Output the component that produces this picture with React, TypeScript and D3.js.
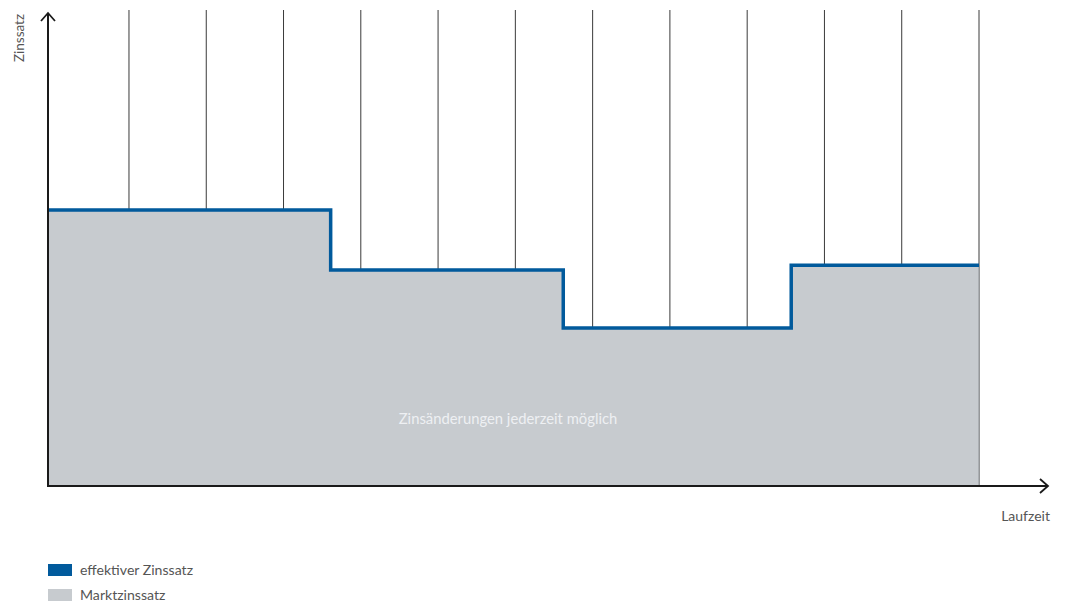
import React from "react";
import * as d3 from "d3";

const gridTicks = [1, 2, 3, 4, 5, 6, 7, 8, 9, 10, 11, 12];
const stepStarts = [-0.05, 3.61, 6.62, 9.57, 12];
const stepValues = [58, 45.4, 33.2, 46.4, 46.4];
const legendLabels = ["effektiver Zinssatz", "Marktzinssatz"];
const centerLabel = "Zinsänderungen jederzeit möglich";
const yLabel = "Zinssatz";
const xLabel = "Laufzeit";

const W = 1066;
const H = 606;
const BLUE = "#015a9c";
const GREY = "#c7cbcf";
const FONT = "Lato, 'Open Sans', sans-serif";

export default function App() {
  const x = d3.scaleLinear().domain([0, 12]).range([51.7, 979]);
  const y = d3.scaleLinear().domain([0, 100]).range([486, 10]);
  const data = stepStarts.map((t, i) => ({ t, v: stepValues[i] }));
  const area = d3
    .area<{ t: number; v: number }>()
    .x((d) => x(d.t))
    .y0(y(0))
    .y1((d) => y(d.v))
    .curve(d3.curveStepAfter);
  const line = d3
    .line<{ t: number; v: number }>()
    .x((d) => x(d.t))
    .y((d) => y(d.v))
    .curve(d3.curveStepAfter);

  const legendColors = [BLUE, GREY];

  return (
    <svg
      width={W}
      height={H}
      style={{ position: "absolute", left: 0, top: 0, background: "#fff" }}
    >
      {gridTicks.map((t) => (
        <line
          key={t}
          x1={x(t)}
          x2={x(t)}
          y1={y(100)}
          y2={y(0)}
          stroke="#3a3a3a"
          strokeWidth={1}
        />
      ))}
      <path d={area(data) || ""} fill={GREY} />
      <line
        x1={x(12)}
        x2={x(12)}
        y1={y(stepValues[stepValues.length - 1])}
        y2={y(0)}
        stroke="#8e9296"
        strokeWidth={1}
      />
      <path
        d={line(data) || ""}
        fill="none"
        stroke={BLUE}
        strokeWidth={3.5}
        strokeLinejoin="miter"
      />
      {/* axes */}
      <line x1={48} x2={48} y1={13} y2={487} stroke="#1a1a1a" strokeWidth={2} />
      <line x1={47} x2={1048} y1={486} y2={486} stroke="#1a1a1a" strokeWidth={2} />
      <polyline
        points="41,21 48,13 55,21"
        fill="none"
        stroke="#1a1a1a"
        strokeWidth={1.8}
      />
      <polyline
        points="1040,479 1048,486 1040,493"
        fill="none"
        stroke="#1a1a1a"
        strokeWidth={1.8}
      />
      <text
        transform="translate(24,38) rotate(-90)"
        textAnchor="middle"
        fontFamily={FONT}
        fontSize={13.5}
        fill="#555"
      >
        {yLabel}
      </text>
      <text
        x={1050}
        y={521}
        textAnchor="end"
        fontFamily={FONT}
        fontSize={14}
        fill="#555"
      >
        {xLabel}
      </text>
      <text
        x={508}
        y={424}
        textAnchor="middle"
        fontFamily={FONT}
        fontSize={14.8}
        fill="#eef0f3"
      >
        {centerLabel}
      </text>
      {legendLabels.map((l, i) => (
        <g key={l} transform={`translate(48,${564 + i * 25})`}>
          <rect width={24} height={12} fill={legendColors[i]} />
          <text
            x={32}
            y={11}
            fontFamily={FONT}
            fontSize={14.1}
            fill="#555"
          >
            {l}
          </text>
        </g>
      ))}
    </svg>
  );
}
